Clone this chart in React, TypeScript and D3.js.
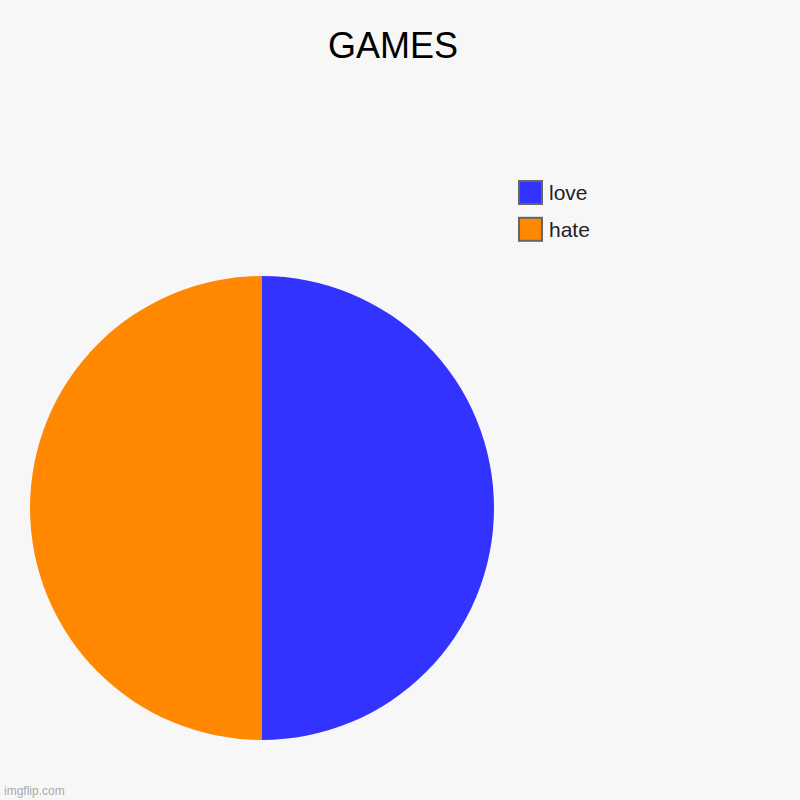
import * as d3 from 'd3';
import React, { useEffect, useRef } from 'react';

const categories = ['love', 'hate'];
const values = [1, 1];
const colors = ['#3333ff', '#ff8800'];

const WIDTH = 800;
const HEIGHT = 800;
const FONT = 'Arial, "Liberation Sans", sans-serif';

const App: React.FC = () => {
  const ref = useRef<SVGSVGElement>(null);

  useEffect(() => {
    const svg = d3.select(ref.current);
    svg.selectAll('*').remove();

    svg.append('rect').attr('width', WIDTH).attr('height', HEIGHT).attr('fill', '#f7f7f7');

    svg
      .append('text')
      .attr('x', 393)
      .attr('y', 58)
      .attr('text-anchor', 'middle')
      .style('font-family', FONT)
      .style('font-size', '36px')
      .attr('fill', '#000')
      .text('GAMES');

    const data = categories.map((c, i) => ({ name: c, value: values[i], color: colors[i] }));
    const pie = d3.pie<any>().sort(null).value(d => d.value);
    const arc = d3.arc<any>().innerRadius(0).outerRadius(232);

    svg
      .append('g')
      .attr('transform', 'translate(262,508)')
      .selectAll('path')
      .data(pie(data))
      .enter()
      .append('path')
      .attr('d', arc)
      .attr('fill', d => d.data.color);

    // legend rows: love at top, hate below
    const legendY = d3.scaleBand().domain(categories).range([181, 241]).paddingInner(0.37);
    const legend = svg
      .append('g')
      .selectAll('g')
      .data(data)
      .enter()
      .append('g')
      .attr('transform', d => `translate(519,${legendY(d.name)})`);

    legend
      .append('rect')
      .attr('width', 23)
      .attr('height', 23)
      .attr('fill', d => d.color)
      .attr('stroke', '#666')
      .attr('stroke-width', 2);

    legend
      .append('text')
      .attr('x', 30)
      .attr('y', 19)
      .style('font-family', FONT)
      .style('font-size', '21px')
      .attr('fill', '#222')
      .text(d => d.name);

    svg
      .append('text')
      .attr('x', 4)
      .attr('y', 795)
      .style('font-family', FONT)
      .style('font-size', '12px')
      .attr('fill', '#aaa')
      .text('imgflip.com');
  }, []);

  return (
    <svg
      ref={ref}
      width={WIDTH}
      height={HEIGHT}
      style={{ position: 'absolute', top: 0, left: 0, display: 'block' }}
    />
  );
};

export default App;
